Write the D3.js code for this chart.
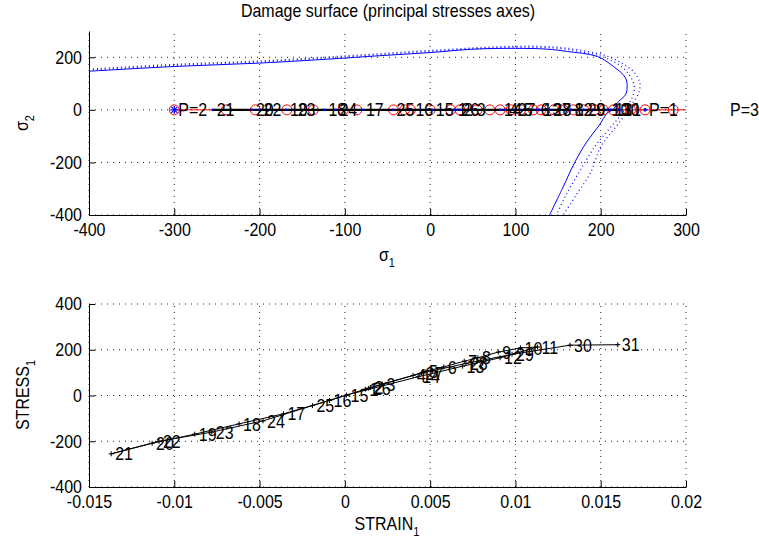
<!DOCTYPE html>
<html lang="en">
<head>
  <meta charset="UTF-8">
  <title>Damage surface</title>
  <script src="https://d3js.org/d3.v7.min.js"></script>
  <style>
    body { margin: 0; background: #fff; }
    svg text { font-family: "Liberation Sans", Arial, Helvetica, sans-serif; }
  </style>
</head>
<body>
  <svg width="759" height="544"></svg>

  <script>
    // ---- data ----
    // top plot ticks
    const sig1Ticks = [-400, -300, -200, -100, 0, 100, 200, 300];
    const sig2Ticks = [-400, -200, 0, 200];

    // damage surface, solid blue line (sigma1, sigma2)
    const surfS1 = [-400, -300, -200, -100, -59, 0, 51, 100, 137, 161, 196, 215, 229, 231, 229, 221, 214, 208, 198, 184, 170, 155, 140];
    const surfS2 = [147, 165, 178, 197, 206, 218, 231, 234, 231, 222, 203, 165, 122, 89, 57, 32, 0, -11, -60, -120, -197, -300, -400];

    // dotted blue point clouds just outside the surface
    const midS1 = [-400, -300, -200, -100, 0, 100, 150, 180, 202, 221, 233, 239, 238, 231, 221, 208, 193, 176, 160, 148];
    const midS2 = [151, 169, 182, 201, 222, 238, 234, 219, 202, 172, 135, 95, 55, 15, -30, -80, -140, -230, -320, -400];
    const outS1 = [-400, -300, -200, -100, 0, 100, 150, 185, 207, 226, 240, 246, 244, 236, 226, 214, 200, 188, 172, 156];
    const outS2 = [155, 173, 186, 205, 226, 242, 238, 222, 205, 175, 140, 100, 60, 20, -30, -80, -140, -240, -320, -400];

    // red circles on sigma2 = 0
    const circS1 = [-300, -239, -205, -168, -137, -102, -86, -43, -30, -23, 0, 24, 35, 55, 70, 82, 95, 106, 121, 130, 145, 156, 168, 180, 193, 203, 215, 225, 235, 252, 285, 347];

    // load points P
    const pText = ["P=1", "P=2", "P=3"];
    const pS1 = [252, -300, 347];

    // strain-stress path, points 1..31
    const pathLabel = [1, 2, 3, 4, 5, 6, 7, 8, 9, 10, 11, 12, 13, 14, 15, 16, 17, 18, 19, 20, 21, 22, 23, 24, 25, 26, 27, 28, 29, 30, 31];
    const pathStrain = [0.0012, 0.0015, 0.0022, 0.0040, 0.0047, 0.0058, 0.0070, 0.0078, 0.0090, 0.0103, 0.0113,
                        0.0091, 0.0069, 0.0043, 0.0001, -0.0009, -0.0036, -0.0062, -0.0088, -0.0113, -0.0137,
                        -0.0109, -0.0078, -0.0048, -0.0019, 0.0014, 0.0045, 0.0071, 0.0098, 0.0132, 0.0160];
    const pathStress = [28, 35, 50, 88, 105, 125, 150, 165, 190, 208, 212,
                        165, 128, 82, 2, -22, -80, -124, -169, -209, -255,
                        -200, -160, -111, -44, 32, 98, 140, 180, 220, 222];

    // bottom plot ticks
    const strainTicks = [-0.015, -0.01, -0.005, 0, 0.005, 0.01, 0.015, 0.02];
    const stressTicks = [-400, -200, 0, 200, 400];

    const svg = d3.select("svg");
    const FONT = 16;
    const TALL = "scale(1,1.15)";   // the original font is a bit taller than Liberation Sans

    // draw an axes box in MATLAB style (box off, inward ticks, dotted grid)
    function makeAxes(g, x, y, xt, yt, fmt) {
      const [x0, x1] = x.range();
      const [y0, y1] = y.range();

      // grid
      g.append("g").selectAll("line").data(xt).join("line")
        .attr("x1", d => x(d)).attr("x2", d => x(d))
        .attr("y1", y0).attr("y2", y1)
        .attr("stroke", "#222").attr("stroke-dasharray", "1,5");
      g.append("g").selectAll("line").data(yt).join("line")
        .attr("x1", x0).attr("x2", x1)
        .attr("y1", d => y(d)).attr("y2", d => y(d))
        .attr("stroke", "#222").attr("stroke-dasharray", "1,5");

      const ax = g.append("g")
        .attr("transform", "translate(0," + y0 + ")")
        .call(d3.axisBottom(x).tickValues(xt).tickFormat(fmt).tickSize(-6).tickSizeOuter(0).tickPadding(7));
      const ay = g.append("g")
        .attr("transform", "translate(" + x0 + ",0)")
        .call(d3.axisLeft(y).tickValues(yt).tickFormat(d => String(d)).tickSize(-6).tickSizeOuter(0).tickPadding(7));
      [ax, ay].forEach(a => {
        a.attr("font-size", FONT).attr("font-family", null);
        a.selectAll("text").attr("fill", "#000").attr("transform", TALL);
        a.selectAll("path, line").attr("stroke", "#000");
      });
    }

    // text placed at (x, y), stretched a little vertically
    function label(g, x, y, str, anchor, dy) {
      return g.append("text")
        .attr("transform", "translate(" + x + "," + y + ") " + TALL)
        .attr("text-anchor", anchor || "start")
        .attr("dy", dy || 0)
        .attr("font-size", FONT).attr("fill", "#000")
        .text(str);
    }

    // ---- top plot ----
    const xTop = d3.scaleLinear().domain([-400, 300]).range([89, 686]);
    const yTop = d3.scaleLinear().domain([-400, 300]).range([215, 31]);
    const gTop = svg.append("g");

    svg.append("defs").append("clipPath").attr("id", "clipTop")
      .append("rect").attr("x", 89).attr("y", 31).attr("width", 597).attr("height", 184);

    makeAxes(gTop, xTop, yTop, sig1Ticks, sig2Ticks, d => String(d));

    const plotTop = gTop.append("g").attr("clip-path", "url(#clipTop)");
    const lineTop = d3.line().x(d => xTop(d[0])).y(d => yTop(d[1]));

    // dotted clouds
    [[outS1, outS2], [midS1, midS2]].forEach(([a, b]) => {
      plotTop.append("path")
        .datum(a.map((v, i) => [v, b[i]]))
        .attr("fill", "none").attr("stroke", "#1515ff")
        .attr("stroke-width", 1.3).attr("stroke-dasharray", "1,3")
        .attr("d", lineTop.curve(d3.curveCatmullRom));
    });
    // solid surface
    plotTop.append("path")
      .datum(surfS1.map((v, i) => [v, surfS2[i]]))
      .attr("fill", "none").attr("stroke", "#0000ff").attr("stroke-width", 1)
      .attr("d", lineTop.curve(d3.curveCatmullRom));

    // red line through load points, red circles
    const circSorted = circS1.slice().sort((a, b) => a - b);
    plotTop.append("path")
      .datum(circSorted.map(v => [v, 0]))
      .attr("fill", "none").attr("stroke", "#ff0000").attr("stroke-width", 1)
      .attr("d", lineTop.curve(d3.curveLinear));
    plotTop.append("g").selectAll("circle").data(circS1).join("circle")
      .attr("cx", d => xTop(d)).attr("cy", yTop(0)).attr("r", 5)
      .attr("fill", "none").attr("stroke", "#ff0000").attr("stroke-width", 1);

    // stress path projected on sigma1 axis
    const pathMin = d3.min(pathStress), pathMax = d3.max(pathStress);
    plotTop.append("line")
      .attr("x1", xTop(pathMin)).attr("x2", xTop(pathMax))
      .attr("y1", yTop(0)).attr("y2", yTop(0))
      .attr("stroke", "#000").attr("stroke-width", 2.2);
    plotTop.append("g").selectAll("circle").data(pathStress).join("circle")
      .attr("cx", d => xTop(d)).attr("cy", yTop(0)).attr("r", 1.3)
      .attr("fill", "#0000ff");
    // blue star at P=2 and dot at P=1
    const pStar = plotTop.append("g").attr("stroke", "#0000ff").attr("stroke-width", 1.2);
    [[-4, 0, 4, 0], [0, -4, 0, 4], [-3, -3, 3, 3], [-3, 3, 3, -3]].forEach(s => {
      pStar.append("line")
        .attr("x1", xTop(pS1[1]) + s[0]).attr("y1", yTop(0) + s[1])
        .attr("x2", xTop(pS1[1]) + s[2]).attr("y2", yTop(0) + s[3]);
    });
    plotTop.append("circle").attr("cx", xTop(pS1[0])).attr("cy", yTop(0)).attr("r", 1.8).attr("fill", "#0000ff");

    // labels (not clipped)
    const topLabels = gTop.append("g");
    pathLabel.forEach((d, i) => label(topLabels, xTop(pathStress[i]) + 4, yTop(0), d, "start", "0.36em"));
    pText.forEach((d, i) => label(topLabels, xTop(pS1[i]) + 4, yTop(0), d, "start", "0.36em"));

    // title and axis labels
    label(svg, 388, 17, "Damage surface (principal stresses axes)", "middle");
    const xl1 = label(svg, 387, 261, "", "middle");
    xl1.append("tspan").text("σ");
    xl1.append("tspan").attr("dy", 5).attr("font-size", 11).text("1");
    const yl1 = svg.append("text").attr("transform", "translate(28,123) rotate(-90) " + TALL).attr("text-anchor", "middle").attr("font-size", FONT);
    yl1.append("tspan").text("σ");
    yl1.append("tspan").attr("dy", 5).attr("font-size", 11).text("2");

    // ---- bottom plot ----
    const xBot = d3.scaleLinear().domain([-0.015, 0.02]).range([89, 686]);
    const yBot = d3.scaleLinear().domain([-400, 400]).range([487, 304]);
    const gBot = svg.append("g");
    makeAxes(gBot, xBot, yBot, strainTicks, stressTicks, d => String(d));

    const pts = pathStrain.map((v, i) => [v, pathStress[i]]);
    gBot.append("path")
      .datum(pts)
      .attr("fill", "none").attr("stroke", "#000").attr("stroke-width", 1)
      .attr("d", d3.line().x(d => xBot(d[0])).y(d => yBot(d[1])));
    gBot.append("g").selectAll("path").data(pts).join("path")
      .attr("d", d => "M" + (xBot(d[0]) - 2.5) + "," + yBot(d[1]) + "h5M" + xBot(d[0]) + "," + (yBot(d[1]) - 2.5) + "v5")
      .attr("stroke", "#000").attr("stroke-width", 1);
    const botLabels = gBot.append("g");
    pathLabel.forEach((d, i) => label(botLabels, xBot(pathStrain[i]) + 4, yBot(pathStress[i]), d, "start", "0.36em"));

    const xl2 = label(svg, 387, 530, "", "middle");
    xl2.append("tspan").text("STRAIN");
    xl2.append("tspan").attr("dy", 5).attr("font-size", 11).text("1");
    const yl2 = svg.append("text").attr("transform", "translate(29,395) rotate(-90) " + TALL).attr("text-anchor", "middle").attr("font-size", FONT);
    yl2.append("tspan").text("STRESS");
    yl2.append("tspan").attr("dy", 5).attr("font-size", 11).text("1");
  </script>
</body>
</html>
